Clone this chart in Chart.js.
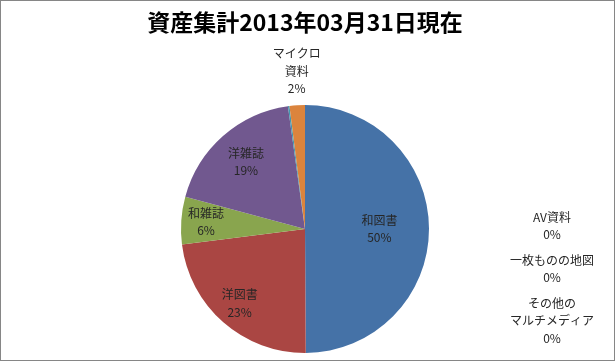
<!DOCTYPE html>
<html>
<head>
<meta charset="utf-8">
<script src="https://cdn.jsdelivr.net/npm/chart.js@4/dist/chart.umd.min.js"></script>
<style>
html,body{margin:0;padding:0;background:#fff;}
canvas{display:block;}
</style>
</head>
<body>
<canvas id="c" width="615" height="361"></canvas>
<script>
// ---- data ----
const categories = ['和図書', '洋図書', '和雑誌', '洋雑誌', 'AV資料', 'マイクロ資料', '一枚ものの地図', 'その他のマルチメディア'];
const values = [49.9, 23.1, 6.2, 18.6, 0.2, 2.0, 0.0, 0.0];
const labelLines = [['和図書'], ['洋図書'], ['和雑誌'], ['洋雑誌'], ['AV資料'], ['マイクロ', '資料'], ['一枚ものの地図'], ['その他の', 'マルチメディア']];
const colors = ['#4572A7', '#AA4643', '#89A54E', '#71588F', '#4198AF', '#DB843D', '#93A9CF', '#D19392'];
const titleText = '資産集計2013年03月31日現在';

const total = values.reduce((a, b) => a + b, 0);
const pct = v => Math.round(v / total * 100) + '%';

const FONT = "'Noto Sans CJK JP', 'Noto Sans', sans-serif";

const sliceLabels = {
  id: 'sliceLabels',
  afterDatasetsDraw(chart, args, opts) {
    const ctx = chart.ctx;
    const meta = chart.getDatasetMeta(0);
    const ca = chart.chartArea;
    ctx.save();
    ctx.font = '12px ' + FONT;
    ctx.fillStyle = '#262626';
    ctx.textAlign = 'center';
    ctx.textBaseline = 'middle';
    const lh = 17.5;
    let sideY = opts.sideTop;
    meta.data.forEach((arc, i) => {
      const lines = labelLines[i].concat([pct(values[i])]);
      const p = arc.getProps(['x', 'y', 'startAngle', 'endAngle', 'outerRadius'], true);
      const mid = (p.startAngle + p.endAngle) / 2;
      const mode = opts.mode[i];
      let cx, cy;
      if (mode === 'side') {
        cx = ca.right + opts.sideDx;
        cy = sideY + (lines.length - 1) * lh / 2;
        sideY += lines.length * lh + opts.sideGap;
      } else if (mode === 'out') {
        const h = lines.length * lh;
        const d = p.outerRadius + opts.outGap;
        cx = p.x + Math.cos(mid) * d;
        cy = p.y + Math.sin(mid) * d - h / 2;
      } else {
        const d = p.outerRadius * mode;
        cx = p.x + Math.cos(mid) * d;
        cy = p.y + Math.sin(mid) * d;
      }
      lines.forEach((t, k) => {
        ctx.fillText(t, cx, cy + (k - (lines.length - 1) / 2) * lh);
      });
    });
    ctx.restore();
  }
};

const frame = {
  id: 'frame',
  afterDraw(chart) {
    const ctx = chart.ctx;
    ctx.save();
    ctx.strokeStyle = '#868686';
    ctx.lineWidth = 1;
    ctx.strokeRect(0.5, 0.5, chart.width - 1, chart.height - 1);
    ctx.restore();
  }
};

new Chart(document.getElementById('c'), {
  type: 'pie',
  data: {
    labels: categories,
    datasets: [{
      data: values,
      backgroundColor: colors,
      borderWidth: 0
    }]
  },
  options: {
    responsive: false,
    animation: false,
    layout: { padding: { top: 0, bottom: 8, left: 0, right: 5 } },
    plugins: {
      legend: { display: false },
      tooltip: { enabled: false },
      title: {
        display: true,
        text: titleText,
        color: '#000',
        font: { family: FONT, size: 23, weight: 'bold', lineHeight: 1.2 },
        padding: { top: 8, bottom: 69.4 }
      },
      sliceLabels: {
        mode: [0.6, 0.8, 0.8, 0.72, 'side', 'out', 'side', 'side'],
        outGap: 8,
        sideDx: -58,
        sideTop: 217,
        sideGap: 8
      }
    }
  },
  plugins: [sliceLabels, frame]
});
</script>
</body>
</html>
